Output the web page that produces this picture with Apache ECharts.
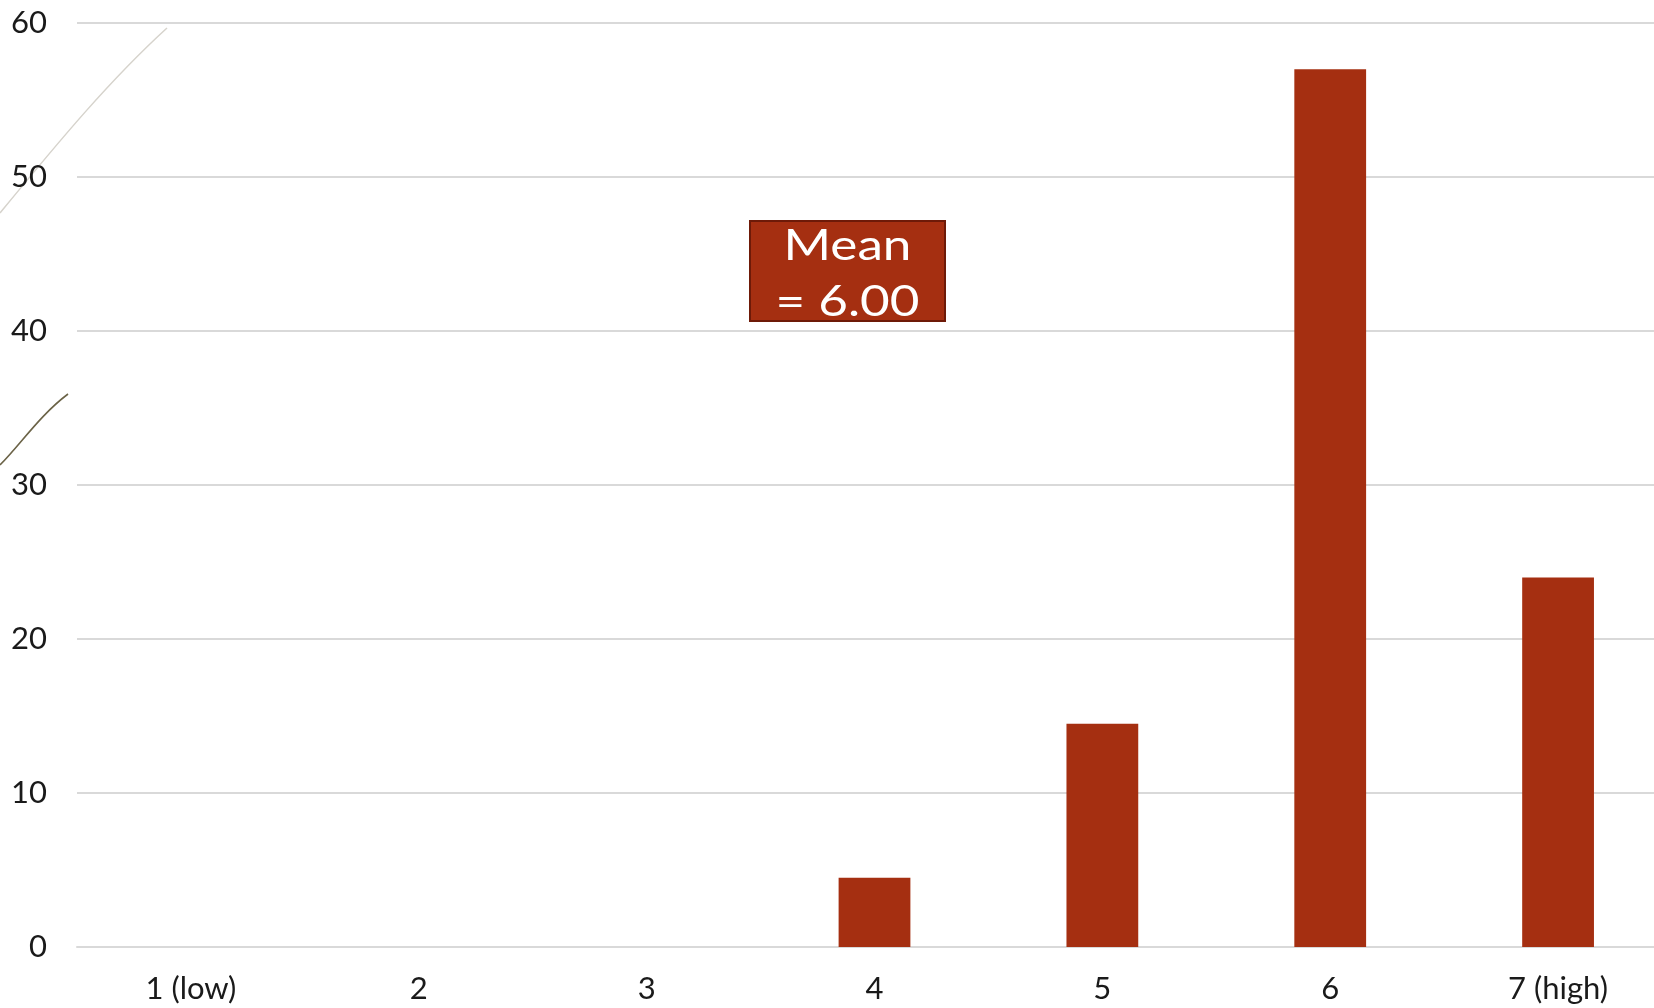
<!DOCTYPE html>
<html>
<head>
<meta charset="utf-8">
<style>
  html, body { margin: 0; padding: 0; background: #ffffff; }
  #chart { width: 1654px; height: 1008px; }
</style>
<script src="https://cdn.jsdelivr.net/npm/echarts@6/dist/echarts.min.js"></script>
</head>
<body>
<div id="chart"></div>
<script>
// Rating scale categories and share of responses (%)
const categories = ['1 (low)', '2', '3', '4', '5', '6', '7 (high)'];
const shares = [0, 0, 0, 4.5, 14.5, 57.0, 24.0];
const yTicks = { min: 0, max: 60, interval: 10 };
const meanText = 'Mean\n= 6.00';

const FONT = 'Lato, "Open Sans", sans-serif';
const BAR = '#a52f11';

const chart = echarts.init(document.getElementById('chart'), null, { renderer: 'canvas' });

chart.setOption({
  backgroundColor: '#ffffff',
  animation: false,
  // plot area runs slightly past the right edge of the page
  grid: {
    left: 77, width: 1595, top: 23, bottom: 61,
    containLabel: false, outerBoundsMode: 'none'
  },
  xAxis: {
    type: 'category',
    data: categories,
    axisLine: { show: true, lineStyle: { color: '#d9d9d9', width: 2 } },
    axisTick: { show: false },
    axisLabel: { color: '#1a1a1a', fontFamily: FONT, fontSize: 31, margin: 26 }
  },
  yAxis: {
    type: 'value',
    min: yTicks.min,
    max: yTicks.max,
    interval: yTicks.interval,
    axisLine: { show: false },
    axisTick: { show: false },
    splitLine: { lineStyle: { color: '#d9d9d9', width: 2 } },
    axisLabel: { color: '#1a1a1a', fontFamily: FONT, fontSize: 31, margin: 30 }
  },
  series: [{
    type: 'bar',
    data: shares,
    barWidth: '31.5%',
    itemStyle: { color: BAR, borderWidth: 0 }
  }],
  graphic: [
    // thin decorative strokes in the upper-left corner
    {
      type: 'bezierCurve',
      shape: { x1: 0, y1: 213, x2: 167, y2: 28, cpx1: 60, cpy1: 140, cpx2: 110, cpy2: 80 },
      style: { stroke: '#d6d3cc', lineWidth: 1.5, fill: null },
      z: 0
    },
    {
      type: 'bezierCurve',
      shape: { x1: 0, y1: 465, x2: 68, y2: 394, cpx1: 20, cpy1: 445, cpx2: 40, cpy2: 415 },
      style: { stroke: '#6b6347', lineWidth: 1.6, fill: null },
      z: 0
    },
    // mean annotation box
    {
      type: 'group',
      x: 750,
      y: 221,
      children: [
        {
          type: 'rect',
          shape: { x: 0, y: 0, width: 195, height: 100 },
          style: { fill: BAR, stroke: '#6e1a08', lineWidth: 2 }
        },
        {
          type: 'text',
          x: 97.5,
          y: 53,
          scaleX: 1.22,
          style: {
            text: meanText,
            fill: '#ffffff',
            font: '42px ' + FONT,
            align: 'center',
            verticalAlign: 'middle',
            lineHeight: 56
          }
        }
      ],
      z: 10
    }
  ]
});
</script>
</body>
</html>
